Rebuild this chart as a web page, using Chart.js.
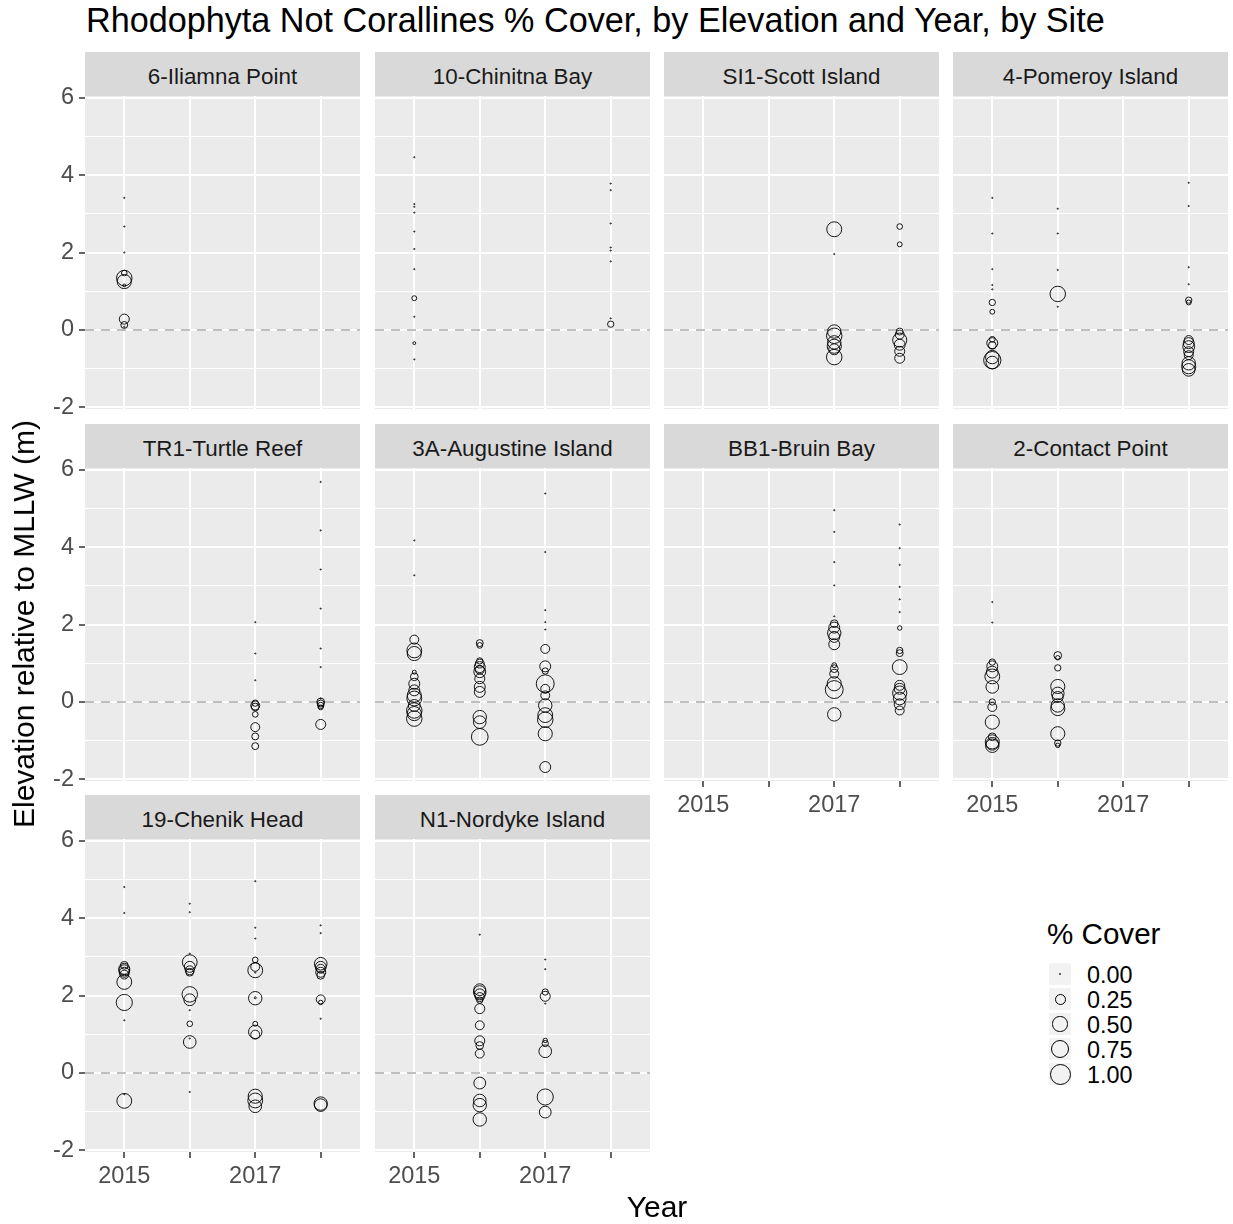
<!DOCTYPE html>
<html>
<head>
<meta charset="utf-8">
<title>Rhodophyta Not Corallines % Cover</title>
<script src="https://cdn.jsdelivr.net/npm/chart.js@4.4.1/dist/chart.umd.min.js"></script>
<style>
  body { margin:0; background:#fff; width:1233px; height:1224px; position:relative; overflow:hidden;
         font-family:"Liberation Sans", Arial, sans-serif; }
  .strip { position:absolute; background:#D9D9D9; color:#1A1A1A; font-size:22.4px; text-align:center; overflow:hidden; }
  .txt { position:absolute; white-space:nowrap; color:#000; }
  canvas { position:absolute; }
  .key { position:absolute; width:22px; height:22px; background:#F2F2F2; }
  .dot { position:absolute; border:1px solid #000; border-radius:50%; box-sizing:border-box; }
</style>
</head>
<body>
<script>
// Site facets, in the order ggplot laid them out (4 per row)
const sites = ["6-Iliamna Point", "10-Chinitna Bay", "SI1-Scott Island", "4-Pomeroy Island",
               "TR1-Turtle Reef", "3A-Augustine Island", "BB1-Bruin Bay", "2-Contact Point",
               "19-Chenik Head", "N1-Nordyke Island"];

// rows: [year, elevation (m rel. MLLW), cover (0-1)]
const iliamna = [[2015,3.41,0],[2015,2.67,0],[2015,2.0,0],[2015,1.47,0.08],[2015,1.34,0.6],[2015,1.25,0.5],
  [2015,1.15,0.02],[2015,0.28,0.25],[2015,0.13,0.12],[2015,0.08,0]];
const chinitna = [[2015,4.46,0],[2015,3.25,0],[2015,3.18,0],[2015,3.03,0],[2015,2.54,0],[2015,2.09,0],
  [2015,1.57,0],[2015,0.82,0.06],[2015,0.34,0],[2015,-0.34,0.02],[2015,-0.76,0],
  [2018,3.78,0],[2018,3.61,0],[2018,2.75,0],[2018,2.13,0],[2018,2.05,0],[2018,1.77,0],[2018,0.30,0],[2018,0.15,0.1]];
const scott = [[2017,2.6,0.56],[2017,1.96,0],[2017,-0.04,0.45],[2017,-0.15,0.6],[2017,-0.32,0.45],
  [2017,-0.42,0.5],[2017,-0.5,0.3],[2017,-0.7,0.6],
  [2018,2.67,0.08],[2018,2.21,0.06],[2018,-0.04,0.12],[2018,-0.12,0.2],[2018,-0.26,0.5],[2018,-0.38,0.3],
  [2018,-0.55,0.25],[2018,-0.73,0.25]];
const pomeroy = [[2015,3.41,0],[2015,2.49,0],[2015,1.57,0],[2015,1.16,0],[2015,1.05,0],[2015,0.71,0.1],
  [2015,0.47,0.06],[2015,-0.24,0.08],[2015,-0.34,0.3],[2015,-0.4,0.15],[2015,-0.7,0.45],[2015,-0.78,0.75],[2015,-0.84,0.4],
  [2016,3.13,0],[2016,2.49,0],[2016,1.55,0],[2016,0.93,0.6],[2016,0.6,0],
  [2018,3.8,0],[2018,3.2,0],[2018,1.62,0],[2018,1.18,0],[2018,0.77,0.1],[2018,0.71,0.06],[2018,-0.26,0.2],
  [2018,-0.34,0.3],[2018,-0.43,0.35],[2018,-0.56,0.25],[2018,-0.65,0.2],[2018,-0.86,0.45],[2018,-0.95,0.5],[2018,-1.03,0.4]];
const turtle = [[2017,2.06,0],[2017,1.25,0],[2017,0.56,0],[2017,-0.03,0.1],[2017,-0.09,0.2],[2017,-0.13,0.15],
  [2017,-0.32,0.08],[2017,-0.65,0.2],[2017,-0.89,0.12],[2017,-1.14,0.12],
  [2018,5.68,0],[2018,4.43,0],[2018,3.42,0],[2018,2.41,0],[2018,1.38,0],[2018,0.9,0],[2018,0.09,0],
  [2018,0.0,0.15],[2018,-0.04,0.12],[2018,-0.09,0.1],[2018,-0.14,0.06],[2018,-0.58,0.25]];
const augustine = [[2015,4.17,0],[2015,3.27,0],[2015,1.61,0.2],[2015,1.33,0.55],[2015,1.25,0.5],[2015,0.77,0.04],
  [2015,0.65,0.15],[2015,0.47,0.3],[2015,0.3,0.3],[2015,0.17,0.5],[2015,0.09,0.55],[2015,-0.09,0.35],
  [2015,-0.22,0.6],[2015,-0.3,0.5],[2015,-0.43,0.6],
  [2016,1.52,0.12],[2016,1.46,0.08],[2016,1.06,0.1],[2016,0.99,0.2],[2016,0.9,0.3],[2016,0.83,0.2],
  [2016,0.78,0.35],[2016,0.6,0.25],[2016,0.39,0.3],[2016,0.26,0.3],[2016,-0.39,0.45],[2016,-0.52,0.4],[2016,-0.9,0.7],
  [2017,5.38,0],[2017,3.87,0],[2017,2.37,0],[2017,2.06,0],[2017,1.87,0],[2017,1.37,0.2],[2017,0.92,0.3],
  [2017,0.8,0.1],[2017,0.47,0.8],[2017,0.34,0.2],[2017,0.17,0.2],[2017,-0.09,0.45],[2017,-0.34,0.55],
  [2017,-0.46,0.6],[2017,-0.82,0.5],[2017,-1.68,0.3]];
const bruin = [[2017,4.95,0],[2017,4.39,0],[2017,3.61,0],[2017,3.01,0],[2017,2.21,0],[2017,2.02,0.15],
  [2017,1.92,0.3],[2017,1.78,0.45],[2017,1.68,0.3],[2017,1.49,0.3],[2017,0.95,0.06],[2017,0.86,0.15],
  [2017,0.73,0.2],[2017,0.47,0.5],[2017,0.32,0.8],[2017,-0.32,0.45],
  [2018,4.58,0],[2018,3.97,0],[2018,3.54,0],[2018,2.97,0],[2018,2.65,0],[2018,2.32,0],[2018,1.91,0.05],
  [2018,1.33,0.1],[2018,1.26,0.12],[2018,0.9,0.55],[2018,0.43,0.25],[2018,0.34,0.3],[2018,0.23,0.5],
  [2018,0.09,0.4],[2018,-0.06,0.3],[2018,-0.22,0.2]];
const contact = [[2015,2.58,0],[2015,2.05,0],[2015,1.03,0.1],[2015,0.92,0.3],[2015,0.77,0.35],[2015,0.66,0.55],
  [2015,0.39,0.4],[2015,0.0,0.1],[2015,-0.13,0.2],[2015,-0.52,0.5],[2015,-0.9,0.15],[2015,-1.03,0.5],
  [2015,-1.08,0.4],[2015,-1.13,0.45],
  [2016,1.2,0.15],[2016,1.14,0.05],[2016,0.88,0.1],[2016,0.4,0.5],[2016,0.22,0.4],[2016,0.13,0.3],
  [2016,-0.09,0.45],[2016,-0.17,0.5],[2016,-0.82,0.5],[2016,-1.06,0.1],[2016,-1.12,0.05]];
const chenik = [[2015,4.8,0],[2015,4.13,0],[2015,2.78,0.15],[2015,2.69,0.3],[2015,2.65,0.3],[2015,2.6,0.25],
  [2015,2.54,0.2],[2015,2.35,0.55],[2015,1.82,0.65],[2015,1.36,0],[2015,-0.55,0],[2015,-0.72,0.55],
  [2016,4.37,0],[2016,4.15,0],[2016,3.08,0],[2016,2.86,0.55],[2016,2.74,0.3],[2016,2.65,0.2],[2016,2.6,0.15],
  [2016,2.03,0.6],[2016,1.89,0.35],[2016,1.62,0],[2016,1.27,0.08],[2016,0.89,0],[2016,0.8,0.4],[2016,-0.49,0],
  [2017,4.95,0],[2017,3.75,0],[2017,3.47,0],[2017,2.92,0.08],[2017,2.74,0.2],[2017,2.65,0.55],[2017,2.59,0],
  [2017,1.93,0.45],[2017,1.94,0.01],[2017,1.27,0.06],[2017,1.06,0.45],[2017,0.99,0.2],[2017,-0.6,0.5],
  [2017,-0.71,0.55],[2017,-0.86,0.4],
  [2018,3.81,0],[2018,3.61,0],[2018,2.82,0.4],[2018,2.74,0.3],[2018,2.69,0.2],[2018,2.6,0.25],[2018,2.52,0.15],
  [2018,1.9,0.2],[2018,1.82,0.05],[2018,1.4,0],[2018,-0.79,0.45],[2018,-0.83,0.4]];
const nordyke = [[2016,3.57,0],[2016,2.15,0.35],[2016,2.09,0.4],[2016,2.03,0.3],[2016,1.96,0.2],[2016,1.88,0.1],
  [2016,1.66,0.25],[2016,1.23,0.2],[2016,0.83,0.25],[2016,0.71,0.15],[2016,0.5,0.2],[2016,-0.26,0.35],
  [2016,-0.71,0.4],[2016,-0.83,0.45],[2016,-1.2,0.45],
  [2017,2.93,0],[2017,2.68,0],[2017,2.09,0.1],[2017,1.98,0.25],[2017,1.79,0],[2017,0.84,0.05],[2017,0.76,0.1],
  [2017,0.56,0.4],[2017,-0.62,0.65],[2017,-1.01,0.35]];

const siteRows = [iliamna, chinitna, scott, pomeroy, turtle, augustine, bruin, contact, chenik, nordyke];

// axes
const xTicks = [2015, 2016, 2017, 2018];
const xLabels = [2015, 2017];
const yTicks = [-2, -1, 0, 1, 2, 3, 4, 5, 6];
const yLabels = [-2, 0, 2, 4, 6];
const xMin = 2014.4, xMax = 2018.6;
const yMin = -2.04, yMax = 6.04;
const legendValues = [0, 0.25, 0.5, 0.75, 1];

// --------------------- layout ---------------------
const FONT = '"Liberation Sans", Arial, sans-serif';
const colX = [85, 375, 664, 953];
const rowY = [96, 468, 839];
const PW = 275, PH = 313, STRIP = 44;
const PAD = 14, YAX = 46, XAX = 40;
const TICK_SIZE = 23.5;

const sizeOf = (v) => Math.max(0.6, 10 * Math.sqrt(v));
const isMajorY = (v) => yLabels.includes(v);

function addText(txt, cls, css){
  const d = document.createElement('div');
  d.className = cls;
  d.textContent = txt;
  Object.assign(d.style, css);
  document.body.appendChild(d);
  return d;
}

const panelBg = {
  id: 'panelBg',
  beforeDraw(chart){
    const { ctx, chartArea: a } = chart;
    ctx.save();
    ctx.fillStyle = '#EBEBEB';
    ctx.fillRect(a.left, a.top, a.right - a.left, a.bottom - a.top);
    ctx.restore();
  }
};

function makePanel(i){
  const col = i % 4, row = Math.floor(i / 4);
  const showY = col === 0;
  const showX = row === 2 || (row === 1 && col >= 2);
  const rows = siteRows[i];

  // strip label
  addText(sites[i], 'strip', { left: colX[col] + 'px', top: (rowY[row] - STRIP) + 'px',
    width: PW + 'px', height: STRIP + 'px', lineHeight: (STRIP + 5) + 'px' });

  const cv = document.createElement('canvas');
  cv.width = PAD + YAX + PW + PAD;
  cv.height = PAD + PH + XAX + PAD;
  cv.style.left = (colX[col] - PAD - YAX) + 'px';
  cv.style.top = (rowY[row] - PAD) + 'px';
  document.body.appendChild(cv);

  new Chart(cv.getContext('2d'), {
    type: 'scatter',
    data: {
      datasets: [
        {
          type: 'line',
          data: [{ x: xMin, y: 0 }, { x: xMax, y: 0 }],
          borderColor: '#ABABAB', borderWidth: 1.6, borderDash: [9, 7],
          pointRadius: 0, order: 2
        },
        {
          data: rows.map(r => ({ x: r[0], y: r[1] })),
          pointRadius: rows.map(r => sizeOf(r[2])),
          pointBackgroundColor: 'rgba(0,0,0,0)',
          pointBorderColor: '#000000',
          pointBorderWidth: 0.9,
          order: 1
        }
      ]
    },
    options: {
      responsive: false,
      animation: false,
      events: [],
      layout: { padding: PAD },
      plugins: { legend: { display: false }, tooltip: { enabled: false } },
      scales: {
        x: {
          type: 'linear', min: xMin, max: xMax,
          afterBuildTicks: s => { s.ticks = xTicks.map(v => ({ value: v })); },
          afterFit: s => { s.height = XAX; s.paddingLeft = 0; s.paddingRight = 0; },
          border: { display: false },
          grid: { color: '#FFFFFF', lineWidth: 2, drawTicks: showX, tickLength: 6,
                  tickColor: '#333333', tickWidth: 1.5 },
          ticks: { display: showX, autoSkip: false, maxRotation: 0, padding: 4, color: '#4D4D4D',
                   font: { family: FONT, size: TICK_SIZE },
                   callback: v => xLabels.includes(v) ? String(v) : '' }
        },
        y: {
          type: 'linear', min: yMin, max: yMax,
          afterBuildTicks: s => { s.ticks = yTicks.map(v => ({ value: v })); },
          afterFit: s => { s.width = YAX; s.paddingTop = 0; s.paddingBottom = 0; },
          border: { display: false },
          grid: {
            color: '#FFFFFF',
            lineWidth: c => (c.tick && isMajorY(c.tick.value)) ? 2 : 1,
            drawTicks: showY, tickLength: 6, tickWidth: 1.5,
            tickColor: c => (c.tick && isMajorY(c.tick.value)) ? '#333333' : 'rgba(0,0,0,0)'
          },
          ticks: { display: showY, autoSkip: false, padding: 5, color: '#4D4D4D',
                   font: { family: FONT, size: TICK_SIZE },
                   callback: v => isMajorY(v) ? String(v) : '' }
        }
      }
    },
    plugins: [panelBg]
  });
}

sites.forEach((s, i) => makePanel(i));

// --------------------- titles ---------------------
addText('Rhodophyta Not Corallines % Cover, by Elevation and Year, by Site', 'txt',
  { left: '86px', top: '0px', height: '40px', lineHeight: '40px', fontSize: '34.2px' });
addText('Elevation relative to MLLW (m)', 'txt',
  { left: '24px', top: '624px', fontSize: '30px', transform: 'translate(-50%,-50%) rotate(-90deg)' });
addText('Year', 'txt',
  { left: '657px', top: '1207px', fontSize: '30px', transform: 'translate(-50%,-50%)' });

// --------------------- size legend ---------------------
addText('% Cover', 'txt', { left: '1047px', top: '917px', fontSize: '29.6px', lineHeight: '34px' });
legendValues.forEach((v, k) => {
  const top = 963 + k * 25;
  const key = document.createElement('div');
  key.className = 'key';
  key.style.left = '1049px';
  key.style.top = top + 'px';
  document.body.appendChild(key);
  const d = Math.max(2, 2 * sizeOf(v) + 1);
  const dot = document.createElement('div');
  dot.className = 'dot';
  Object.assign(dot.style, { width: d + 'px', height: d + 'px',
    left: (1060 - d / 2) + 'px', top: (top + 11 - d / 2) + 'px' });
  document.body.appendChild(dot);
  addText(v.toFixed(2), 'txt', { left: '1087px', top: (top - 1) + 'px', fontSize: '23.4px', lineHeight: '26px' });
});
</script>
</body>
</html>
